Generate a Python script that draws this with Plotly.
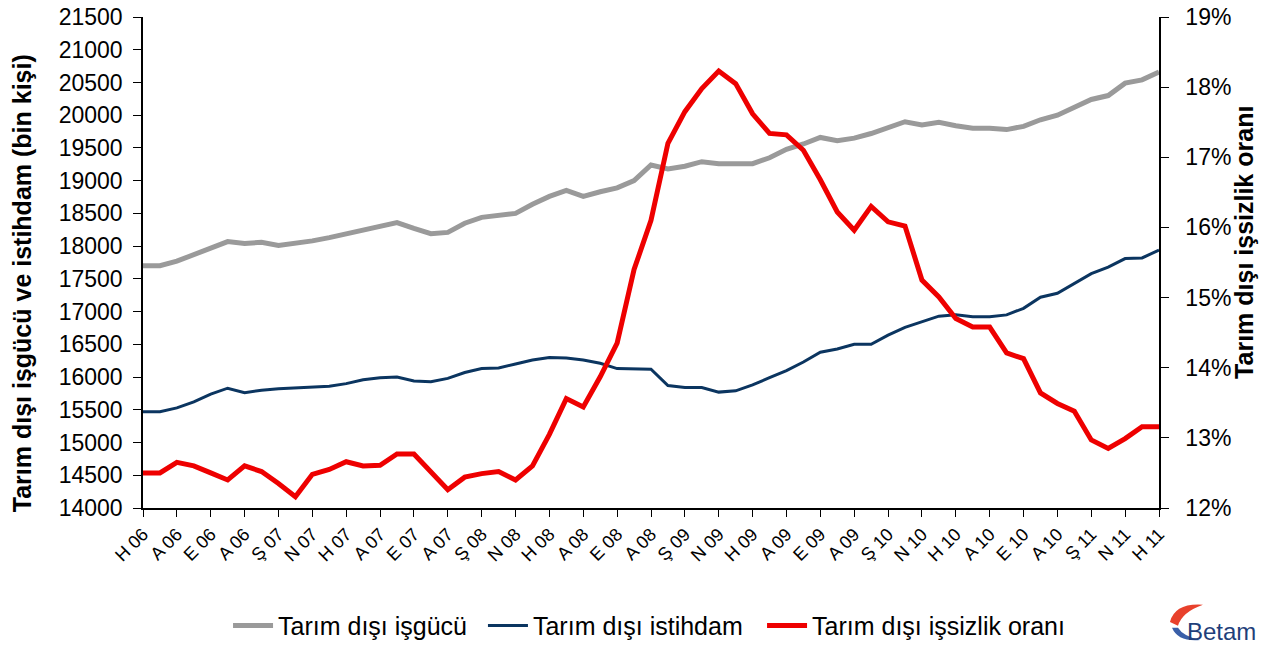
import plotly.graph_objects as go

# Month index labels (every second month is labelled on the axis)
tick_labels = ["H 06", "A 06", "E 06", "A 06", "Ş 07", "N 07", "H 07", "A 07", "E 07", "A 07",
               "Ş 08", "N 08", "H 08", "A 08", "E 08", "A 08", "Ş 09", "N 09", "H 09", "A 09",
               "E 09", "A 09", "Ş 10", "N 10", "H 10", "A 10", "E 10", "A 10", "Ş 11", "N 11", "H 11"]

# Tarım dışı işgücü (bin kişi), June 2006 - June 2011
isgucu = [17700, 17700, 17770, 17870, 17980, 18070, 18040, 18060, 18010, 18040,
          18080, 18130, 18190, 18240, 18300, 18360, 18270, 18190, 18210, 18350,
          18440, 18470, 18500, 18640, 18760, 18850, 18760, 18830, 18890, 19000,
          19240, 19180, 19220, 19290, 19260, 19260, 19260, 19350, 19480, 19560,
          19660, 19610, 19650, 19720, 19800, 19900, 19850, 19890, 19840, 19800,
          19800, 19780, 19830, 19930, 20000, 20130, 20240, 20300, 20490, 20540,
          20660]

# Tarım dışı istihdam (bin kişi)
istihdam = [15470, 15470, 15530, 15620, 15740, 15830, 15760, 15800, 15820, 15830,
            15850, 15860, 15900, 15960, 15990, 16000, 15940, 15930, 15980, 16070,
            16130, 16140, 16200, 16260, 16300, 16290, 16260, 16210, 16130, 16120,
            16120, 15870, 15840, 15840, 15770, 15790, 15880, 15990, 16100, 16230,
            16380, 16430, 16500, 16500, 16640, 16760, 16840, 16930, 16950, 16920,
            16920, 16950, 17050, 17220, 17280, 17430, 17580, 17680, 17810, 17820,
            17940]

# Tarım dışı işsizlik oranı (%)
oran = [12.50, 12.50, 12.65, 12.60, 12.50, 12.40, 12.60, 12.52, 12.35, 12.16,
        12.48, 12.55, 12.66, 12.60, 12.61, 12.77, 12.77, 12.52, 12.26, 12.44,
        12.49, 12.52, 12.40, 12.60, 13.05, 13.56, 13.44, 13.87, 14.35, 15.40,
        16.10, 17.20, 17.65, 17.98, 18.23, 18.05, 17.62, 17.34, 17.32, 17.10,
        16.68, 16.22, 15.96, 16.30, 16.08, 16.02, 15.25, 15.01, 14.70, 14.58,
        14.58, 14.21, 14.13, 13.64, 13.49, 13.38, 12.97, 12.85, 12.99, 13.16,
        13.16]

x = list(range(len(isgucu)))
tickvals = x[::2]

FONT = "Liberation Sans, Arial, sans-serif"

fig = go.Figure()
fig.add_trace(go.Scatter(x=x, y=isgucu, name="Tarım dışı işgücü", mode="lines",
                         line=dict(color="#9a9a9a", width=5), legend="legend"))
fig.add_trace(go.Scatter(x=x, y=istihdam, name="Tarım dışı istihdam", mode="lines",
                         line=dict(color="#0b3560", width=3), legend="legend2"))
fig.add_trace(go.Scatter(x=x, y=oran, name="Tarım dışı işsizlik oranı", mode="lines",
                         line=dict(color="#ee0000", width=5), yaxis="y2", legend="legend3"))

legend_style = dict(orientation="h", xanchor="left", y=-0.24, yanchor="middle",
                    font=dict(size=25, family=FONT), itemwidth=40,
                    bgcolor="rgba(0,0,0,0)")

fig.update_layout(
    width=1260, height=637,
    margin=dict(l=135, r=109, t=9, b=137, autoexpand=False),
    paper_bgcolor="white", plot_bgcolor="white",
    font=dict(family=FONT, color="black"),
    showlegend=True,
    legend=dict(x=0.0837, **legend_style),
    legend2=dict(x=0.3346, **legend_style),
    legend3=dict(x=0.6093, **legend_style),
    xaxis=dict(range=[0, 60], tickmode="array", tickvals=tickvals, ticktext=tick_labels,
               tickangle=-45, tickfont=dict(size=18), ticks="outside", ticklen=7,
               tickcolor="black", showline=True, linecolor="black", linewidth=1.5,
               showgrid=False, zeroline=False, automargin=False),
    yaxis=dict(range=[14000, 21500], dtick=500, tickformat="d", tickfont=dict(size=23),
               ticks="outside", ticklen=8, tickcolor="black", showline=True,
               linecolor="black", linewidth=1.5, showgrid=False, zeroline=False,
               ticklabelstandoff=6, ticklabeloverflow="allow", automargin=False),
    yaxis2=dict(range=[12, 19], dtick=1, ticksuffix="%", overlaying="y", side="right",
                tickfont=dict(size=23), ticks="outside", ticklen=8, tickcolor="black",
                showline=True, linecolor="black", linewidth=1.5, showgrid=False,
                zeroline=False, ticklabelstandoff=12, ticklabeloverflow="allow",
                automargin=False),
)

# Axis titles placed like the reference
fig.add_annotation(xref="paper", yref="paper", x=-0.119, y=0.458, xanchor="center",
                   yanchor="middle", textangle=-90, showarrow=False,
                   text="<b>Tarım dışı işgücü ve istihdam (bin kişi)</b>",
                   font=dict(size=25, family=FONT, color="black"))
fig.add_annotation(xref="paper", yref="paper", x=1.0837, y=0.54, xanchor="center",
                   yanchor="middle", textangle=-90, showarrow=False,
                   text="<b>Tarım dışı işsizlik oranı</b>",
                   font=dict(size=25, family=FONT, color="black"))

# Betam logo (swoosh + text)
fig.add_shape(type="path", xref="paper", yref="paper",
              path="M 1.0108,-0.232 Q 1.0158,-0.193 1.0433,-0.197 Q 1.0226,-0.212 1.0187,-0.240 Z",
              fillcolor="#e8412c", line=dict(width=0))
fig.add_shape(type="path", xref="paper", yref="paper",
              path="M 1.0128,-0.244 Q 1.0187,-0.273 1.0404,-0.269 Q 1.0236,-0.261 1.0187,-0.244 Z",
              fillcolor="#3a5fa8", line=dict(width=0))
fig.add_annotation(xref="paper", yref="paper", x=1.062, y=-0.2525, xanchor="center",
                   yanchor="middle", text="Betam", showarrow=False,
                   font=dict(size=24, color="#1f3f7a", family=FONT))

fig.write_html("out.html")
